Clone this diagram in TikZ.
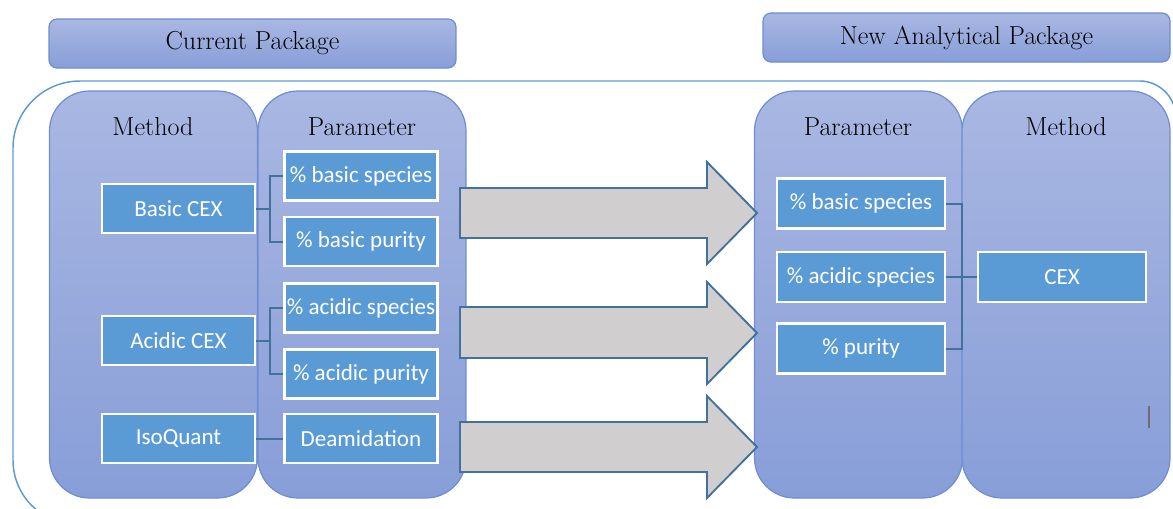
\documentclass[tikz,border=0pt]{standalone}
\usepackage{fontspec}
\newfontfamily\boxfont{Carlito}

\definecolor{paneltop}{HTML}{A9B7E2}
\definecolor{panelbot}{HTML}{889ED8}
\definecolor{panelline}{HTML}{6E8DD2}
\definecolor{boxfill}{HTML}{5B9BD5}
\definecolor{linkblue}{HTML}{41719C}
\definecolor{arrowgray}{HTML}{D0CECE}
\definecolor{frameblue}{HTML}{5B9BD5}
\definecolor{cursorgray}{HTML}{6E6E6E}

\begin{document}
\begin{tikzpicture}[x=0.75pt,y=-0.75pt,
  size/.style 2 args={minimum width=#1*0.75pt, minimum height=#2*0.75pt},
  panel/.style={draw=panelline, line width=0.9pt, top color=paneltop,
    bottom color=panelbot, rounded corners=30pt, inner sep=0pt, size={208}{407}},
  header/.style={draw=panelline, line width=0.9pt, top color=paneltop,
    bottom color=panelbot, rounded corners=6pt, inner sep=0pt, size={407}{49},
    font=\fontsize{19.5}{22}\selectfont},
  title/.style={font=\fontsize{19.5}{22}\selectfont, inner sep=0pt},
  itembox/.style={draw=white, line width=2pt, fill=boxfill, inner sep=0pt,
    text=white, font=\boxfont\fontsize{17.3}{20}\selectfont},
  lbox/.style={itembox, size={153}{49}},
  rbox/.style={itembox, size={168}{50}},
  link/.style={draw=linkblue, line width=1.5pt},
  blockarrow/.style={draw=linkblue, line width=1.4pt, fill=arrowgray, line join=miter},
  frame/.style={draw=frameblue, line width=1.1pt}
]
\useasboundingbox (0,0) rectangle (1173,508);

% outer frame around both packages
\begin{scope}
\clip (0,0) rectangle (1173,508);
\draw[frame] (1175,560) -- (1175,114) .. controls (1175,96) and (1158,81) .. (1140,81)
  -- (80,81) .. controls (43,81) and (13,111) .. (13,148)
  -- (13,460) .. controls (13,496) and (42,525) .. (80,525) -- (1175,525);
\end{scope}

% package headers
\node[header] (hdcur) at (252.5,43.5) {Current Package};
\node[header] (hdnew) at (966.5,37.5) {New Analytical Package};

% column panels
\node[panel] (lmethod) at (153.5,294.5) {};
\node[panel] (lparam) at (362,294.5) {};
\node[panel] (rparam) at (858.5,294.5) {};
\node[panel] (rmethod) at (1066,294.5) {};

\node[title] (tlm) at (153,127) {Method};
\node[title] (tlp) at (362,127) {Parameter};
\node[title] (trp) at (858,127) {Parameter};
\node[title] (trm) at (1066,127) {Method};

% current package items
\node[lbox] (bcex) at (178.5,208.5) {Basic CEX};
\node[lbox] (bsp) at (361,176) {\% basic species};
\node[lbox] (bpu) at (361,241.5) {\% basic purity};
\node[lbox] (acex) at (178.5,340.5) {Acidic CEX};
\node[lbox] (asp) at (361,308) {\% acidic species};
\node[lbox] (apu) at (361,374) {\% acidic purity};
\node[lbox] (iso) at (178.5,438.5) {IsoQuant};
\node[lbox] (deam) at (361,438.5) {Deamidation};

% new package items
\node[rbox] (nbsp) at (861,203.5) {\% basic species};
\node[rbox] (nasp) at (861,277) {\% acidic species};
\node[rbox] (npu) at (861,348.5) {\% purity};
\node[rbox] (ncex) at (1062,277) {CEX};

% brackets between methods and parameters
\coordinate (jb) at (270,208.5);
\coordinate (ja) at (270,340.5);
\coordinate (jn) at (962,277);
\draw[link] (bcex.east) -- (jb);
\draw[link] (jb) |- (bsp.west);
\draw[link] (jb) |- (bpu.west);
\draw[link] (acex.east) -- (ja);
\draw[link] (ja) |- (asp.west);
\draw[link] (ja) |- (apu.west);
\draw[link] (iso.east) -- (deam.west);
\draw[link] (nbsp.east) -| (jn);
\draw[link] (npu.east) -| (jn);
\draw[link] (nasp.east) -- (ncex.west);

% block arrows from current to new package
\draw[blockarrow] (460,188) -- (707,188) -- (707,162) -- (757,213) -- (707,264)
  -- (707,238) -- (460,238) -- cycle;
\draw[blockarrow] (460,307) -- (707,307) -- (707,282) -- (757,333) -- (707,384)
  -- (707,358) -- (460,358) -- cycle;
\draw[blockarrow] (460,422) -- (707,422) -- (707,396) -- (757,447) -- (707,498)
  -- (707,472) -- (460,472) -- cycle;

% small text cursor mark
\draw[cursorgray, line width=1.4pt] (1149,406) -- (1149,428);
\end{tikzpicture}
\end{document}
